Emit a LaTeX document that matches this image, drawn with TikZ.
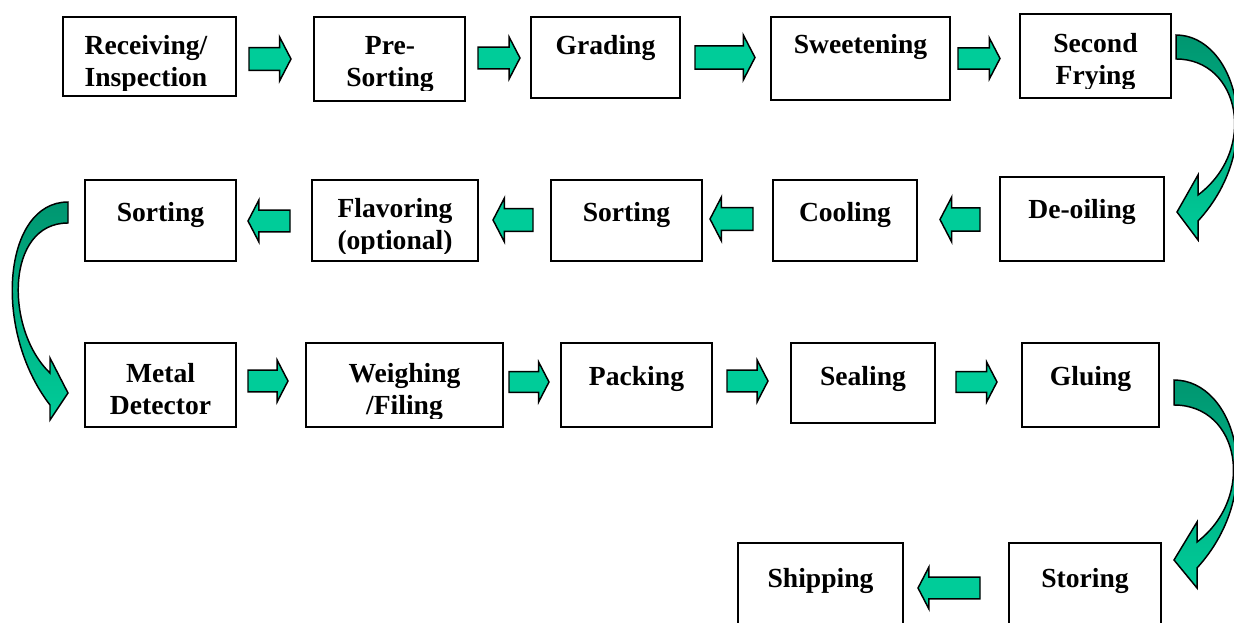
\documentclass[tikz,border=0pt]{standalone}
\usepackage{fontspec}
\setmainfont{Liberation Serif}
\usetikzlibrary{fit}
\definecolor{agreen}{RGB}{0,204,153}
\definecolor{adark}{RGB}{0,150,112}
\tikzset{
  box/.style={draw=black, line width=1.5pt, fill=white, inner sep=0pt},
  lbl/.style={font=\fontsize{20.7}{24}\selectfont\bfseries, inner sep=0pt, anchor=base},
  barrow/.style={draw=black, line width=1.1pt, fill=agreen, line join=miter},
  carrow/.style={draw=black, line width=1.1pt, top color=adark, bottom color=agreen, line join=miter},
}
\newcommand\RBlk[4]{%
  \pgfmathsetmacro\bym{(#3+#4)/2}%
  \pgfmathsetmacro\bhs{(#4-#3)*0.26}%
  \pgfmathsetmacro\bxh{#2-(#4-#3)*0.26}%
  \draw[barrow] (#1,\bym-\bhs) -- (\bxh,\bym-\bhs) -- (\bxh,#3) -- (#2,\bym) -- (\bxh,#4) -- (\bxh,\bym+\bhs) -- (#1,\bym+\bhs) -- cycle;}
\newcommand\LBlk[4]{%
  \pgfmathsetmacro\bym{(#3+#4)/2}%
  \pgfmathsetmacro\bhs{(#4-#3)*0.26}%
  \pgfmathsetmacro\bxh{#1+(#4-#3)*0.26}%
  \draw[barrow] (#2,\bym-\bhs) -- (\bxh,\bym-\bhs) -- (\bxh,#3) -- (#1,\bym) -- (\bxh,#4) -- (\bxh,\bym+\bhs) -- (#2,\bym+\bhs) -- cycle;}
\newcommand\BoxAt[5]{\node[box, fit={(#2,#3) (#4,#5)}] (#1) {};}
\newcommand\TwoLbl[6]{%
  \begin{scope}
    \clip (#2-#6,#3-40) rectangle (#2+#6,#3+36);
    \node[lbl] (#1a) at (#2,#3) {#4};
    \node[lbl] (#1b) at (#2,#3+32) {#5};
  \end{scope}}
\begin{document}
\begin{tikzpicture}[x=0.75pt, y=-0.75pt]
\useasboundingbox (0,0) rectangle (1234,623);
\clip (0,0) rectangle (1234,623);
\fill[white] (0,0) rectangle (1234,623);
% row 1
\BoxAt{b1}{63}{17}{236}{96}
\BoxAt{b2}{314}{17}{465}{101}
\BoxAt{b3}{531}{17}{680}{98}
\BoxAt{b4}{771}{17}{950}{100}
\BoxAt{b5}{1020}{14}{1171}{98}
% row 2
\BoxAt{b6}{1000}{177}{1164}{261}
\BoxAt{b7}{773}{180}{917}{261}
\BoxAt{b8}{551}{180}{702}{261}
\BoxAt{b9}{312}{180}{478}{261}
\BoxAt{b10}{85}{180}{236}{261}
% row 3
\BoxAt{b11}{85}{343}{236}{427}
\BoxAt{b12}{306}{343}{503}{427}
\BoxAt{b13}{561}{343}{712}{427}
\BoxAt{b14}{791}{343}{935}{423}
\BoxAt{b15}{1022}{343}{1159}{427}
% row 4
\BoxAt{b16}{1009}{543}{1161}{640}
\BoxAt{b17}{738}{543}{903}{640}
% labels
\TwoLbl{t1}{146}{55}{Receiving/}{Inspection}{85}
\TwoLbl{t2}{390}{55}{Pre-}{Sorting}{75}
\node[lbl] (t3) at (605.5,55) {Grading};
\node[lbl] (t4) at (860.5,54) {Sweetening};
\TwoLbl{t5}{1095.5}{53}{Second}{Frying}{75}
\node[lbl] (t6) at (1082,219) {De-oiling};
\node[lbl] (t7) at (845,222) {Cooling};
\node[lbl] (t8) at (626.5,222) {Sorting};
\TwoLbl{t9}{395}{218}{Flavoring}{(optional)}{82}
\node[lbl] (t10) at (160.5,222) {Sorting};
\TwoLbl{t11}{160.5}{382}{Metal}{Detector}{75}
\TwoLbl{t12}{404.5}{382}{Weighing}{/Filing}{98}
\node[lbl] (t13) at (636.5,385) {Packing};
\node[lbl] (t14) at (863,385) {Sealing};
\node[lbl] (t15) at (1090.5,385) {Gluing};
\node[lbl] (t16) at (1085,587) {Storing};
\node[lbl] (t17) at (820.5,587) {Shipping};
% straight block arrows
\RBlk{249}{291}{37}{81}
\RBlk{478}{520}{37}{79}
\RBlk{695}{755}{35}{80}
\RBlk{958}{1000}{38}{79}
\LBlk{940}{980}{197}{242}
\LBlk{710}{753}{197}{241}
\LBlk{493}{533}{198}{242}
\LBlk{248}{290}{200}{242}
\RBlk{248}{288}{360}{402}
\RBlk{509}{549}{362}{402}
\RBlk{727}{768}{360}{402}
\RBlk{956}{997}{362}{402}
\LBlk{918}{980}{567}{609}
% curved arrows
\draw[carrow] (1176,35) .. controls (1235,35) and (1268,145) .. (1198,221) -- (1198,240) -- (1177,212) -- (1198,175) -- (1198,195) .. controls (1258,150) and (1240,59) .. (1176,59) -- cycle;
\draw[carrow] (68,202) .. controls (3,202) and (-8,330) .. (50,405) -- (50,420) -- (68,393) -- (50,358) -- (50,373) .. controls (5,330) and (5,223) .. (68,223) -- cycle;
\draw[carrow] (1174,380) .. controls (1235,380) and (1268,490) .. (1197,568) -- (1197,588) -- (1174,560) -- (1197,522) -- (1197,542) .. controls (1256,497) and (1240,405) .. (1174,405) -- cycle;
\end{tikzpicture}
\end{document}
